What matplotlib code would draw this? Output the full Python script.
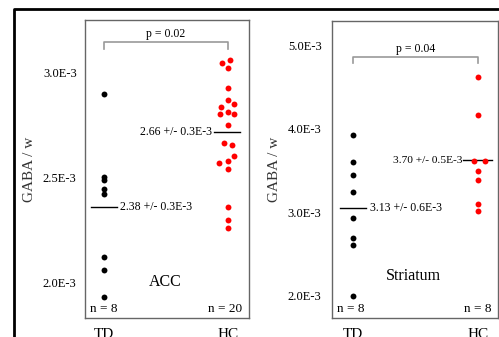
import matplotlib
matplotlib.use("Agg")
import matplotlib.pyplot as plt
from matplotlib.lines import Line2D
import numpy as np

plt.rcParams['font.family'] = ['Liberation Serif', 'DejaVu Serif']

groups = ["TD", "HC"]

# GABA / w values, in units of 1E-3
acc_td = [2.899, 2.500, 2.490, 2.446, 2.419, 2.122, 2.060, 1.927]
acc_td_jit = [0, 0, 0, 0, 0, 0, 0, 0]
acc_hc = [3.049, 3.059, 3.022, 2.927, 2.871, 2.837, 2.851, 2.803, 2.814, 2.805,
          2.752, 2.665, 2.656, 2.570, 2.578, 2.603, 2.541, 2.357, 2.297, 2.260]
acc_hc_jit = [-0.046, 0.013, 0, 0, 0, -0.059, 0.046, -0.062, 0, 0.051,
              0, -0.032, 0.030, -0.073, 0, 0.051, 0, 0, 0, 0]

str_td = [3.919, 3.596, 3.444, 3.241, 2.938, 2.698, 2.607, 2.000]
str_td_jit = [0, 0, 0, 0, 0, 0, 0, 0]
str_hc = [4.613, 4.166, 3.608, 3.608, 3.500, 3.388, 3.097, 3.018]
str_hc_jit = [0, 0, -0.035, 0.054, 0, 0, 0, 0]

acc_ticks = [2.0, 2.5, 3.0]
acc_ticklabels = ["2.0E-3", "2.5E-3", "3.0E-3"]
str_ticks = [2.0, 3.0, 4.0, 5.0]
str_ticklabels = ["2.0E-3", "3.0E-3", "4.0E-3", "5.0E-3"]

acc_labels = ["2.38 +/- 0.3E-3", "2.66 +/- 0.3E-3"]
str_labels = ["3.13 +/- 0.6E-3", "3.70 +/- 0.5E-3"]
acc_p = "p = 0.02"
str_p = "p = 0.04"
acc_n = ["n = 8", "n = 20"]
str_n = ["n = 8", "n = 8"]

W, H = 499, 337
fig = plt.figure(figsize=(W / 100, H / 100), dpi=100)

# outer frame (left and top)
fig.add_artist(Line2D([14 / W, 14 / W, 1.0], [0.0, 1 - 9 / H, 1 - 9 / H],
                      transform=fig.transFigure, color='black', lw=2))


def panel(rect, td, td_jit, hc, hc_jit, ylim, ticks, ticklabels, mlabels,
          ptxt, py, ns, name, namey, xlim, hc_half, pad, mfs):
    ax = fig.add_axes(rect)
    for s in ax.spines.values():
        s.set_color('#666666')
        s.set_linewidth(1)
    ax.scatter(1 + np.array(td_jit), td, s=18, color='black', linewidths=0, zorder=3)
    ax.scatter(2 + np.array(hc_jit), hc, s=18, color='red', linewidths=0, zorder=3)

    m_td = np.mean(td)
    m_hc = np.mean(hc)
    ax.plot([0.895, 1.105], [m_td, m_td], color='black', lw=1)
    ax.plot([2 - hc_half, 2 + hc_half - 0.01], [m_hc, m_hc], color='black', lw=1)
    ax.text(1.13, m_td, mlabels[0], fontsize=8.5, va='center', ha='left')
    ax.text(1.875, m_hc, mlabels[1], fontsize=mfs, va='center', ha='right')

    # significance bracket
    tr = ax.get_xaxis_transform()
    ax.plot([1, 1, 2, 2], [py - 0.022, py, py, py - 0.022], color='#999999',
            lw=1.2, transform=tr, clip_on=False)
    ax.text(1.5, py + 0.028, ptxt, fontsize=8.5, ha='center', va='center', transform=tr)

    ax.text(0.03, 0.03, ns[0], fontsize=9.5, ha='left', va='center', transform=ax.transAxes)
    ax.text(0.96, 0.03, ns[1], fontsize=9.5, ha='right', va='center', transform=ax.transAxes)
    ax.text(0.49, namey, name, fontsize=11.5, ha='center', va='center', transform=ax.transAxes)

    ax.set_xlim(xlim)
    ax.set_ylim(ylim)
    ax.set_xticks([1, 2])
    ax.set_xticklabels(groups, fontsize=11)
    ax.set_yticks(ticks)
    ax.set_yticklabels(ticklabels, fontsize=9)
    ax.tick_params(axis='y', length=0, pad=pad)
    ax.tick_params(axis='x', length=0, pad=7.5)
    ax.set_ylabel("GABA / w", fontsize=11, color='#333333', labelpad=5)
    return ax


panel([85 / W, 19 / H, 164 / W, 298 / H], acc_td, acc_td_jit, acc_hc, acc_hc_jit,
      (1.829, 3.252), acc_ticks, acc_ticklabels, acc_labels, acc_p, 0.926, acc_n,
      "ACC", 0.121, (0.847, 2.17), 0.11, 6, 8.5)

panel([332 / W, 19 / H, 166 / W, 297 / H], str_td, str_td_jit, str_hc, str_hc_jit,
      (1.737, 5.287), str_ticks, str_ticklabels, str_labels, str_p, 0.879, str_n,
      "Striatum", 0.141, (0.83, 2.158), 0.12, 7.5, 8.2)

plt.savefig("out.png", dpi=100)
